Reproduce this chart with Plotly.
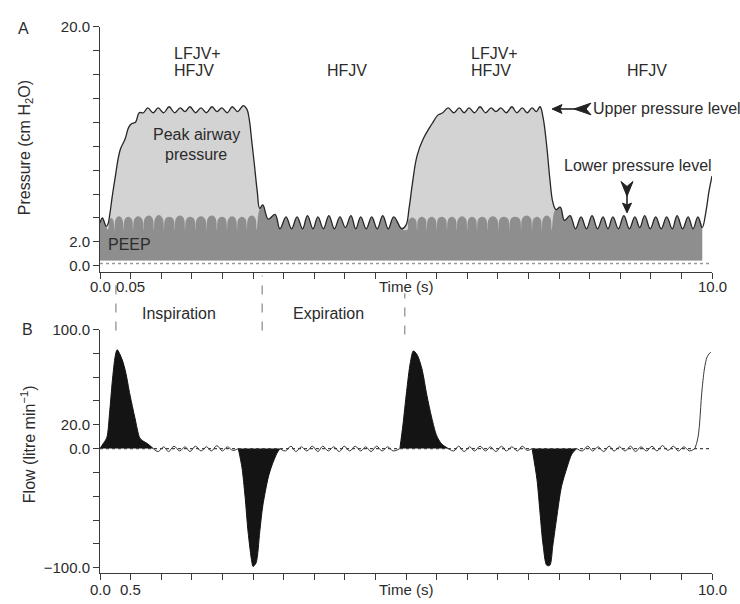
import plotly.graph_objects as go

# ---------------- Panel A: airway pressure (cm H2O) vs time (s) ----------------
P_START_T = [0.00, 0.04, 0.10, 0.13]
P_START = [3.6, 4.0, 3.3, 3.5]

P_RISE1_T = [0.16, 0.20, 0.245, 0.33, 0.41, 0.47, 0.52, 0.58, 0.64]
P_RISE1 = [4.3, 5.8, 7.3, 9.7, 10.6, 11.6, 11.9, 12.0, 12.8]

P_PLAT1_T = [0.71, 0.78, 0.87, 0.95, 1.04, 1.13, 1.22, 1.31, 1.39, 1.47, 1.56,
             1.65, 1.74, 1.83, 1.91, 1.99, 2.08, 2.16, 2.25, 2.34, 2.40]
P_PLAT1 = [12.8, 13.2, 12.8, 13.2, 12.8, 13.3, 12.8, 13.2, 12.9, 13.3, 12.8,
           13.2, 12.8, 13.3, 12.9, 13.2, 12.8, 13.3, 12.9, 13.4, 13.1]

P_DROP1_T = [2.44, 2.48, 2.52, 2.57, 2.61]
P_DROP1 = [12.2, 10.4, 8.6, 6.2, 4.8]

P_HFJV1_T = [2.66, 2.75, 2.86, 2.94, 3.04, 3.13, 3.22, 3.31, 3.39, 3.48, 3.56,
             3.65, 3.74, 3.83, 3.92, 4.01, 4.10, 4.18, 4.26, 4.35, 4.44, 4.53,
             4.62, 4.71, 4.80, 4.93]
P_HFJV1 = [5.1, 3.9, 4.3, 3.1, 4.1, 3.1, 4.1, 3.1, 4.2, 3.1, 4.1,
           3.1, 4.2, 3.1, 4.1, 3.2, 4.2, 3.1, 4.1, 3.1, 4.1, 3.1,
           4.2, 3.1, 4.1, 3.1]

P_RISE2_T = [5.00, 5.05, 5.10, 5.18, 5.28, 5.39, 5.44, 5.52]
P_RISE2 = [3.4, 4.8, 6.7, 9.2, 10.6, 11.6, 12.0, 12.6]

P_PLAT2_T = [5.60, 5.69, 5.78, 5.87, 5.95, 6.03, 6.12, 6.21, 6.30, 6.39,
             6.47, 6.55, 6.64, 6.73, 6.81, 6.90, 6.98, 7.06, 7.13, 7.19]
P_PLAT2 = [12.8, 13.2, 12.8, 13.2, 12.8, 13.2, 12.8, 13.3, 12.8, 13.2,
           12.9, 13.2, 12.8, 13.3, 12.8, 13.2, 12.8, 13.2, 12.9, 13.3]

P_DROP2_T = [7.24, 7.30, 7.35, 7.40, 7.45]
P_DROP2 = [12.4, 10.0, 7.3, 5.3, 4.7]

P_HFJV2_T = [7.52, 7.59, 7.68, 7.77, 7.86, 7.95, 8.04, 8.13, 8.22, 8.30,
             8.38, 8.47, 8.56, 8.65, 8.74, 8.82, 8.90, 8.99, 9.08, 9.17,
             9.26, 9.35, 9.43, 9.52, 9.61, 9.69, 9.77, 9.84]
P_HFJV2 = [4.9, 3.8, 4.2, 3.1, 4.1, 3.1, 4.2, 3.1, 4.1, 3.1,
           4.1, 3.1, 4.2, 3.1, 4.1, 3.2, 4.2, 3.1, 4.1, 3.1,
           4.1, 3.1, 4.2, 3.1, 4.1, 3.1, 4.1, 3.2]

P_END_T = [9.90, 9.95, 10.0]
P_END = [4.5, 6.2, 7.5]

# PEEP level with the LFJV jet pulses riding on it
D_START_T = [0.00, 0.04, 0.10, 0.13]
D_START = [3.6, 4.0, 3.3, 3.0]

D_PULSE1_T = [0.155, 0.18, 0.215, 0.235, 0.255, 0.31, 0.365, 0.385, 0.405, 0.46,
              0.52, 0.54, 0.56, 0.62, 0.69, 0.71, 0.73, 0.80, 0.86, 0.88,
              0.90, 0.96, 1.025, 1.045, 1.065, 1.13, 1.20, 1.22, 1.24, 1.31,
              1.37, 1.39, 1.41, 1.47, 1.54, 1.56, 1.58, 1.65, 1.72, 1.74,
              1.76, 1.83, 1.89, 1.91, 1.93, 1.99, 2.055, 2.075, 2.095, 2.16,
              2.22, 2.24, 2.26, 2.32, 2.38, 2.40, 2.42, 2.48, 2.54, 2.56, 2.60]
D_PULSE1 = [3.8, 4.0, 3.85, 3.0, 3.9, 4.15, 3.9, 3.0, 3.9, 4.1,
            3.9, 3.0, 3.9, 4.15, 3.9, 3.0, 3.95, 4.2, 3.95, 3.0,
            3.95, 4.25, 3.95, 3.0, 3.9, 4.1, 3.9, 3.0, 3.95, 4.2,
            3.95, 3.0, 3.9, 4.1, 3.9, 3.0, 3.9, 4.15, 3.9, 3.0,
            3.95, 4.2, 3.95, 3.0, 3.9, 4.1, 3.9, 3.0, 3.9, 4.15,
            3.9, 3.0, 3.9, 4.1, 3.9, 3.0, 3.95, 4.2, 3.95, 3.0, 4.6]

D_PULSE2_T = [5.02, 5.04, 5.10, 5.16, 5.18, 5.20, 5.26, 5.32, 5.34, 5.36,
              5.42, 5.48, 5.50, 5.52, 5.59, 5.65, 5.67, 5.69, 5.75, 5.81,
              5.83, 5.85, 5.92, 5.98, 6.00, 6.02, 6.08, 6.14, 6.16, 6.18,
              6.24, 6.31, 6.33, 6.35, 6.42, 6.49, 6.51, 6.53, 6.60, 6.67,
              6.69, 6.71, 6.78, 6.86, 6.88, 6.90, 6.97, 7.04, 7.06, 7.08,
              7.14, 7.20, 7.22, 7.24, 7.30, 7.36, 7.38, 7.42, 7.45]
D_PULSE2 = [3.0, 3.8, 4.05, 3.85, 3.0, 3.9, 4.1, 3.9, 3.0, 3.9,
            4.1, 3.9, 3.0, 3.9, 4.1, 3.9, 3.0, 3.9, 4.1, 3.9,
            3.0, 3.9, 4.15, 3.9, 3.0, 3.9, 4.1, 3.9, 3.0, 3.9,
            4.1, 3.9, 3.0, 3.9, 4.15, 3.9, 3.0, 3.9, 4.1, 3.9,
            3.0, 3.9, 4.1, 3.9, 3.0, 3.95, 4.2, 3.95, 3.0, 3.9,
            4.1, 3.9, 3.0, 3.95, 4.2, 3.95, 3.0, 4.5, 4.7]

# ---------------- Panel B: flow (litre/min) vs time (s) ----------------
F_INSP1_T = [0.00, 0.05, 0.11, 0.16, 0.20, 0.25, 0.28, 0.36, 0.42, 0.49, 0.57, 0.65, 0.70, 0.78, 0.87]
F_INSP1 = [0, 4, 9, 32, 56, 78, 83, 75, 64, 45, 26, 9, 6.5, 4, 0]

F_EXP1_T = [2.26, 2.32, 2.37, 2.42, 2.48, 2.50, 2.55, 2.61, 2.66, 2.75, 2.81, 2.89, 2.94]
F_EXP1 = [0, -16, -40, -70, -95, -99, -96, -70, -48, -24, -14, -4, 0]

F_INSP2_T = [4.90, 4.95, 5.01, 5.07, 5.12, 5.18, 5.26, 5.34, 5.42, 5.50, 5.58, 5.69]
F_INSP2 = [0, 20, 48, 72, 82, 79, 67, 45, 26, 11, 4, 0]

F_EXP2_T = [7.06, 7.14, 7.19, 7.24, 7.30, 7.35, 7.40, 7.46, 7.54, 7.63, 7.71, 7.79]
F_EXP2 = [0, -26, -54, -81, -98, -98, -81, -59, -32, -16, -4.5, 0]

F_INSP3_T = [9.72, 9.77, 9.84, 9.89, 9.93, 9.98]
F_INSP3 = [0, 9, 51, 71, 78, 81]

# high-frequency ripple between the large breaths
F_HF1_T = [0.87, 0.95, 1.04, 1.12, 1.21, 1.30, 1.39, 1.47, 1.56, 1.65, 1.74, 1.82, 1.91, 2.00, 2.08, 2.17, 2.26]
F_HF1 = [0, -2.5, 1.5, -2.5, 2, -2, 1.5, -2.5, 2, -2, 1.5, -2, 2.5, -2, 1.5, -1.5, 0]
F_HF2_T = [2.94, 3.03, 3.12, 3.20, 3.29, 3.38, 3.47, 3.56, 3.64, 3.73, 3.82, 3.91,
           3.99, 4.08, 4.17, 4.26, 4.34, 4.43, 4.52, 4.61, 4.70, 4.79, 4.90]
F_HF2 = [0, -2, 2, -2.5, 1.5, -2, 2, -2.5, 2, -2, 1.5, -2.5,
         2, -2, 2, -2, 1.5, -2.5, 2, -2, 1.5, -2, 0]
F_HF3_T = [5.69, 5.78, 5.86, 5.95, 6.04, 6.12, 6.21, 6.30, 6.38, 6.47, 6.56, 6.64, 6.73, 6.82, 6.90, 6.98, 7.06]
F_HF3 = [0, -2, 2, -2.5, 1.5, -2, 2, -2, 1.5, -2.5, 2, -2, 1.5, -2, 2, -1.5, 0]
F_HF4_T = [7.79, 7.88, 7.97, 8.05, 8.14, 8.23, 8.32, 8.40, 8.49, 8.58, 8.67, 8.75,
           8.84, 8.93, 9.02, 9.10, 9.19, 9.28, 9.37, 9.45, 9.54, 9.63, 9.72]
F_HF4 = [0, -2, 2, -2, 1.5, -2.5, 2, -2, 1.5, -2, 2, -2.5,
         1.5, -2, 2, -2, 2.5, -1.5, 2, -2, 1.5, -2, 0]

# ---------------- axes ticks / labels ----------------
X_TICKS = [0.0, 0.5, 1.0, 1.5, 2.0, 2.5, 3.0, 3.5, 4.0, 4.5, 5.0,
           5.5, 6.0, 6.5, 7.0, 7.5, 8.0, 8.5, 9.0, 9.5, 10.0]
X_LABEL_AT = [0.0, 0.5, 5.0, 10.0]
X_LABELS_A = ["0.0", "0.05", "Time (s)", "10.0"]
X_LABELS_B = ["0.0", "0.5", "Time (s)", "10.0"]
P_TICKS = [0, 2, 4, 6, 8, 10, 12, 14, 16, 18, 20]
P_LABELS = ["0.0", "2.0", "", "", "", "", "", "", "", "", "20.0"]
F_TICKS = [-100, -80, -60, -40, -20, 0, 20, 40, 60, 80, 100]
F_LABELS = ["\u2212100.0", "", "", "", "", "0.0", "20.0", "", "", "", "100.0"]

PHASE_T = [0.26, 2.65, 4.98]          # inspiration / expiration boundaries
PHASE_NAMES = ["Inspiration", "Expiration"]

# ---------------- styling ----------------
W, H = 740, 604
FONT = "Liberation Sans, Arial, Helvetica, sans-serif"
TXT = "#2b2b2b"
AX = "#3a3a3a"
LIGHT = "#d3d3d3"
DARK = "#8e8e8e"
INK = "#262626"
ARROW = "#222222"
FILL_BASE = 0.45


def px(x, y):
    return x / W, 1 - y / H


P_FILL_T = (P_START_T + P_RISE1_T + P_PLAT1_T + P_DROP1_T + P_HFJV1_T +
            P_RISE2_T + P_PLAT2_T + P_DROP2_T + P_HFJV2_T)
P_FILL = (P_START + P_RISE1 + P_PLAT1 + P_DROP1 + P_HFJV1 +
          P_RISE2 + P_PLAT2 + P_DROP2 + P_HFJV2)
P_LINE_T = P_FILL_T + P_END_T
P_LINE = P_FILL + P_END

D_T = D_START_T + D_PULSE1_T + P_HFJV1_T + D_PULSE2_T + P_HFJV2_T
D_V = D_START + D_PULSE1 + P_HFJV1 + D_PULSE2 + P_HFJV2

fig = go.Figure()
spline = dict(shape="spline", smoothing=1.1)


def base(t_end):
    return go.Scatter(x=[0, t_end], y=[FILL_BASE, FILL_BASE], mode="lines",
                      line=dict(width=0), hoverinfo="skip", showlegend=False,
                      xaxis="x", yaxis="y")


# peak airway pressure area
fig.add_trace(base(P_FILL_T[-1]))
fig.add_trace(go.Scatter(x=P_FILL_T, y=P_FILL, mode="lines", fill="tonexty",
                         fillcolor=LIGHT, line=dict(width=0, **spline),
                         hoverinfo="skip", showlegend=False, xaxis="x", yaxis="y"))
# PEEP area
fig.add_trace(base(D_T[-1]))
fig.add_trace(go.Scatter(x=D_T, y=D_V, mode="lines", fill="tonexty",
                         fillcolor=DARK, line=dict(width=0, **spline),
                         hoverinfo="skip", showlegend=False, xaxis="x", yaxis="y"))
# pressure trace outline
fig.add_trace(go.Scatter(x=P_LINE_T, y=P_LINE, mode="lines",
                         line=dict(color=INK, width=1.3, **spline),
                         hoverinfo="skip", showlegend=False, xaxis="x", yaxis="y"))

# flow: filled breaths
for t, f in [(F_INSP1_T, F_INSP1), (F_EXP1_T, F_EXP1),
             (F_INSP2_T, F_INSP2), (F_EXP2_T, F_EXP2)]:
    fig.add_trace(go.Scatter(x=t, y=f, mode="lines", fill="tozeroy",
                             fillcolor="#141414",
                             line=dict(color="#141414", width=1, shape="spline", smoothing=0.8),
                             hoverinfo="skip", showlegend=False,
                             xaxis="x2", yaxis="y2"))
# flow: ripple and the start of the next breath
for t, f in [(F_HF1_T, F_HF1), (F_HF2_T, F_HF2), (F_HF3_T, F_HF3),
             (F_HF4_T, F_HF4), (F_INSP3_T, F_INSP3)]:
    fig.add_trace(go.Scatter(x=t, y=f, mode="lines",
                             line=dict(color="#3a3a3a", width=1, **spline),
                             hoverinfo="skip", showlegend=False,
                             xaxis="x2", yaxis="y2"))

tickfont = dict(family=FONT, size=15, color=TXT)
xdom = [100 / W, 712 / W]
common_x = dict(range=[0, 10], showline=True, linecolor=AX, linewidth=1,
                ticks="outside", ticklen=6, tickcolor=AX, tickwidth=1,
                tickvals=X_TICKS, showticklabels=False, showgrid=False,
                zeroline=False, domain=xdom, fixedrange=True)
common_y = dict(showline=True, linecolor=AX, linewidth=1, ticks="outside",
                ticklen=6, tickcolor=AX, tickwidth=1, showgrid=False,
                zeroline=False, tickfont=tickfont, fixedrange=True)

fig.update_layout(
    width=W, height=H, autosize=False,
    margin=dict(l=0, r=0, t=0, b=0),
    paper_bgcolor="white", plot_bgcolor="white",
    font=dict(family=FONT, color=TXT),
    xaxis=dict(anchor="y", **common_x),
    yaxis=dict(anchor="x", domain=[1 - 268 / H, 1 - 18 / H], range=[-0.49, 20],
               tickvals=P_TICKS, ticktext=P_LABELS, **common_y),
    xaxis2=dict(anchor="y2", **common_x),
    yaxis2=dict(anchor="x2", domain=[1 - 575 / H, 1 - 327 / H], range=[-104.1, 100],
                tickvals=F_TICKS, ticktext=F_LABELS, **common_y),
)

shapes = []
# baselines
shapes.append(dict(type="line", xref="x", yref="y", x0=0, x1=10, y0=0.2, y1=0.2,
                   line=dict(color="#9a9a9a", width=1.5, dash="dot"), layer="above"))
shapes.append(dict(type="line", xref="x2", yref="y2", x0=0, x1=10, y0=0, y1=0,
                   line=dict(color="#444444", width=1.2, dash="dot"), layer="above"))
# phase boundaries
for t, (ya, yb) in zip(PHASE_T, [(276, 328), (272, 328), (290, 332)]):
    shapes.append(dict(type="line", xref="x", yref="paper", x0=t, x1=t,
                       y0=1 - yb / H, y1=1 - ya / H,
                       line=dict(color="#8a8a8a", width=1.2, dash="dash")))


# feathered arrows pointing at the pressure levels
def poly(points):
    d = "M " + " L ".join(f"{x / W:.5f},{1 - y / H:.5f}" for x, y in points) + " Z"
    return dict(type="path", xref="paper", yref="paper", path=d,
                fillcolor=ARROW, line=dict(color=ARROW, width=1))


def seg(x0, y0, x1, y1):
    a, b = px(x0, y0)
    c, d = px(x1, y1)
    return dict(type="line", xref="paper", yref="paper", x0=a, y0=b, x1=c, y1=d,
                line=dict(color=ARROW, width=1.6))


# upper level: pointing left
shapes.append(poly([(552, 102), (562, 97.5), (560, 102), (562, 106.5)]))
shapes.append(seg(559, 102, 577, 102))
shapes.append(poly([(574, 102), (591, 96), (586, 102), (591, 108)]))
# lower level: pointing down
shapes.append(seg(627, 181, 627, 201))
shapes.append(poly([(627, 208), (622.5, 198), (627, 200), (631.5, 198)]))
shapes.append(poly([(627, 191), (621, 176), (627, 181), (633, 176)]))
fig.update_layout(shapes=shapes)

ann = []


def text(s, x, y, size=16, xanchor="center", angle=0, align="center"):
    ax_, ay_ = px(x, y)
    ann.append(dict(text=s, x=ax_, y=ay_, xref="paper", yref="paper",
                    showarrow=False, xanchor=xanchor, yanchor="middle",
                    textangle=angle, align=align,
                    font=dict(family=FONT, size=size, color=TXT)))


# x tick labels
for xref, labels, ypix in [("x", X_LABELS_A, 283), ("x2", X_LABELS_B, 592)]:
    for t, s in zip(X_LABEL_AT, labels):
        ann.append(dict(text=s, x=t, y=1 - ypix / H, xref=xref, yref="paper",
                        showarrow=False, xanchor="center", yanchor="middle",
                        font=tickfont))

text("A", 23, 20)
text("B", 27, 327)
text("Pressure (cm H<sub>2</sub>O)", 25, 142, angle=-90)
text("Flow (litre min<sup>\u22121</sup>)", 28, 444, angle=-90)
text("LFJV+", 172, 45, xanchor="left")
text("HFJV", 172, 63, xanchor="left")
text("HFJV", 347, 63)
text("LFJV+", 469, 45, xanchor="left")
text("HFJV", 469, 63, xanchor="left")
text("HFJV", 647, 63)
text("Peak airway", 196, 128)
text("pressure", 196, 148)
text("PEEP", 106, 240, xanchor="left")
text("Upper pressure level", 591, 102, xanchor="left")
text("Lower pressure level", 562, 160, xanchor="left")
text(PHASE_NAMES[0], 179, 311)
text(PHASE_NAMES[1], 328, 311)
fig.update_layout(annotations=ann)

fig.write_html("out.html")
